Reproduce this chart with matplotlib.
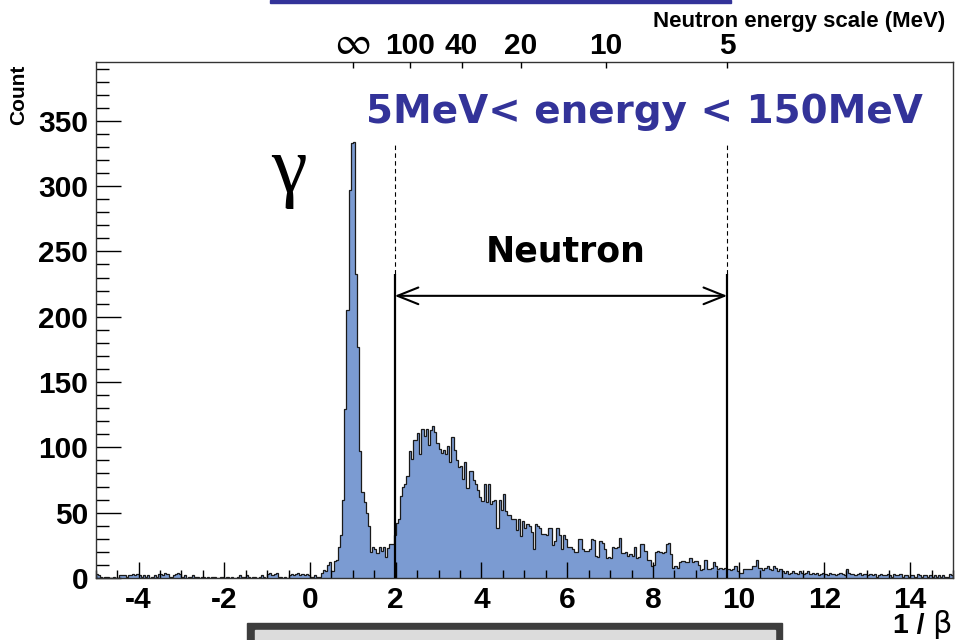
import numpy as np
import matplotlib
matplotlib.use("Agg")
import matplotlib.pyplot as plt
from matplotlib.patches import Rectangle
from matplotlib.ticker import MultipleLocator

plt.rcParams["axes.unicode_minus"] = False

# ---- histogram of 1/beta, 400 bins from -5 to 15 ----
x_min, x_max, n_bins = -5.0, 15.0, 400

counts_neg = [          # -5.00 .. -0.05
    3, 2, 1, 0, 1, 1, 0, 0, 1, 0,
    0, 2, 2, 2, 1, 2, 2, 3, 2, 3,
    2, 1, 2, 1, 2, 0, 1, 2, 1, 3,
    3, 2, 4, 3, 1, 1, 2, 3, 4, 3,
    1, 2, 0, 1, 1, 2, 1, 1, 0, 1,
    1, 0, 1, 0, 1, 1, 0, 0, 1, 1,
    0, 1, 0, 1, 0, 0, 1, 2, 1, 1,
    2, 1, 0, 1, 1, 0, 1, 2, 1, 0,
    3, 4, 2, 3, 4, 1, 1, 0, 1, 0,
    2, 3, 2, 3, 4, 2, 3, 2, 3, 2,
]
counts_peak = [         # 0.00 .. 1.95
    1, 1, 2, 1, 1, 4, 6, 5, 10, 12,
    5, 13, 14, 24, 33, 60, 129, 205, 297, 333,
    334, 233, 177, 97, 66, 58, 50, 40, 20, 24,
    22, 19, 24, 21, 24, 16, 23, 26, 26, 33,
]
counts_bump = [         # 2.00 .. 5.95
    42, 45, 63, 70, 72, 78, 97, 91, 106, 106,
    111, 95, 114, 109, 114, 102, 113, 116, 112, 103,
    99, 96, 98, 95, 101, 89, 108, 98, 90, 85,
    86, 76, 89, 69, 82, 82, 75, 72, 67, 62,
    59, 72, 58, 72, 57, 59, 60, 38, 60, 52,
    64, 51, 48, 48, 45, 45, 37, 45, 32, 44,
    38, 41, 40, 35, 22, 41, 40, 38, 34, 34,
    33, 38, 38, 25, 28, 38, 33, 22, 33, 30,
]
counts_tail = [         # 6.00 .. 9.95
    24, 24, 22, 20, 20, 30, 30, 22, 21, 21,
    22, 30, 29, 17, 16, 28, 27, 22, 15, 16,
    15, 24, 23, 24, 31, 19, 19, 20, 17, 18,
    17, 24, 15, 16, 26, 26, 21, 14, 14, 9,
    10, 20, 21, 20, 19, 20, 26, 27, 18, 8,
    9, 8, 12, 13, 13, 12, 12, 15, 12, 13,
    13, 10, 6, 7, 14, 7, 7, 8, 12, 9,
    7, 8, 7, 8, 7, 7, 6, 7, 9, 5,
]
counts_far = [          # 10.00 .. 14.95
    4, 4, 7, 7, 7, 7, 9, 9, 14, 8,
    8, 6, 8, 9, 7, 6, 9, 8, 5, 7,
    5, 4, 5, 3, 4, 5, 4, 3, 5, 4,
    3, 4, 5, 3, 4, 3, 4, 2, 3, 4,
    3, 2, 4, 3, 3, 2, 3, 4, 3, 2,
    7, 4, 3, 3, 2, 3, 4, 2, 3, 3,
    2, 3, 2, 3, 1, 2, 3, 2, 2, 3,
    2, 1, 3, 2, 2, 3, 1, 2, 2, 1,
    2, 2, 1, 3, 2, 1, 2, 2, 1, 2,
    1, 2, 1, 2, 1, 2, 1, 1, 3, 2,
]

# ---- neutron energy scale on the top axis (MeV) ----
top_energies = [np.inf, 100, 40, 20, 10, 5]
top_labels = ["", "100", "40", "20", "10", "5"]   # the infinity sign is drawn separately
window_energies = [150, 5]          # 5 MeV < E < 150 MeV
NEUTRON_MASS = 939.565              # MeV


def inv_beta(e_kin):
    """1/beta of a neutron with kinetic energy e_kin (MeV)."""
    if np.isinf(e_kin):
        return 1.0
    gamma = 1.0 + e_kin / NEUTRON_MASS
    return 1.0 / np.sqrt(1.0 - 1.0 / gamma ** 2)


counts = np.array(counts_neg + counts_peak + counts_bump + counts_tail + counts_far, float)
edges = np.linspace(x_min, x_max, n_bins + 1)

W, H = 955, 640
fig = plt.figure(figsize=(W / 100, H / 100), dpi=100)
ax = fig.add_axes([95.7 / W, 1 - 578 / H, (953 - 95.7) / W, (578 - 62) / H])

fill_col = "#7b9bd2"
ax.stairs(counts, edges, fill=True, color=fill_col, lw=0)
ax.stairs(counts, edges, color="#1a1a1a", lw=0.9)

ax.set_xlim(x_min, x_max)
ax.set_ylim(0, 395)

tick_font = dict(family="Liberation Sans", weight="bold", size=21.5)
ax.xaxis.set_minor_locator(MultipleLocator(0.5))
ax.yaxis.set_minor_locator(MultipleLocator(10))
ax.set_xticks(np.arange(-4, 15, 2))
ax.set_yticks(np.arange(0, 351, 50))
ax.tick_params(axis="x", which="major", direction="in", length=11.5, width=1,
               pad=5.5, top=False)
ax.tick_params(axis="x", which="minor", direction="in", length=5.6, width=1, top=False)
ax.tick_params(axis="y", which="major", direction="in", length=18, width=1,
               pad=5.5, right=False)
ax.tick_params(axis="y", which="minor", direction="in", length=9.4, width=1, right=False)
for lab in ax.get_xticklabels() + ax.get_yticklabels():
    lab.set_fontproperties(tick_font)
for sp in ax.spines.values():
    sp.set_color("#333333")
    sp.set_linewidth(1.0)

# top axis: neutron kinetic energy
ax2 = ax.twiny()
ax2.set_xlim(x_min, x_max)
ax2.set_xticks([inv_beta(e) for e in top_energies])
ax2.set_xticklabels(top_labels)
ax2.tick_params(axis="x", direction="in", length=4, width=1, pad=1.5)
for lab in ax2.get_xticklabels():
    lab.set_fontproperties(tick_font)
for sp in ax2.spines.values():
    sp.set_visible(False)
ax.annotate(r"$\infty$", xy=(inv_beta(np.inf), 1.0), xycoords=("data", "axes fraction"),
            xytext=(-0.5, 5.5), textcoords="offset points", ha="center", va="baseline",
            size=29, math_fontfamily="stix", annotation_clip=False)

# neutron window: solid markers, dashed extension, double arrow
x_hi, x_lo = [inv_beta(e) for e in window_energies]
for xv in (x_hi, x_lo):
    ax.plot([xv, xv], [0, 233], color="black", lw=1.6, solid_capstyle="butt", zorder=4)
    ax.plot([xv, xv], [233, 333], color="black", lw=0.8, ls=(0, (4, 3)), zorder=4)
ax.annotate("", xy=(x_hi, 216), xytext=(x_lo, 216),
            arrowprops=dict(arrowstyle="<->,head_length=0.75,head_width=0.3",
                            lw=1.5, color="black", mutation_scale=20,
                            shrinkA=0, shrinkB=0), zorder=5)

fig.text(566 / W, 1 - 261 / H, "Neutron", ha="center", va="baseline",
         family="DejaVu Sans", weight="bold", size=25)
fig.text(923 / W, 1 - 123 / H, "5MeV< energy < 150MeV", ha="right", va="baseline",
         family="DejaVu Sans", weight="bold", size=28, color="#333399")
fig.text(289 / W, 1 - 192 / H, "\u03b3", ha="center", va="baseline",
         family="Liberation Serif", size=58)

fig.text(945 / W, 1 - 22 / H, "Neutron energy scale (MeV)", ha="right", va="center",
         family="Liberation Sans", weight="bold", size=16)
fig.text(19 / W, 1 - 65 / H, "Count", rotation=90, ha="center", va="top",
         family="Liberation Sans", weight="bold", size=15)
fig.text(924 / W, 1 - 633 / H, "1 /", ha="right", va="baseline",
         family="Liberation Sans", weight="bold", size=20.5)
fig.text(932 / W, 1 - 633 / H, "\u03b2", ha="left", va="baseline",
         family="DejaVu Sans", size=22)

# slide decorations around the plot
fig.patches.append(Rectangle((270 / W, 1 - 3 / H), (731 - 270) / W, 3 / H,
                             transform=fig.transFigure, color="#333399", zorder=0))
fig.patches.append(Rectangle((247 / W, 0), (782 - 247) / W, (640 - 622.7) / H,
                             transform=fig.transFigure, color="#3d3d3d", zorder=0))
fig.patches.append(Rectangle((255 / W, 0), (775 - 255) / W, (640 - 630) / H,
                             transform=fig.transFigure, color="#dcdcdc", zorder=0))

fig.savefig("out.png", dpi=100)
